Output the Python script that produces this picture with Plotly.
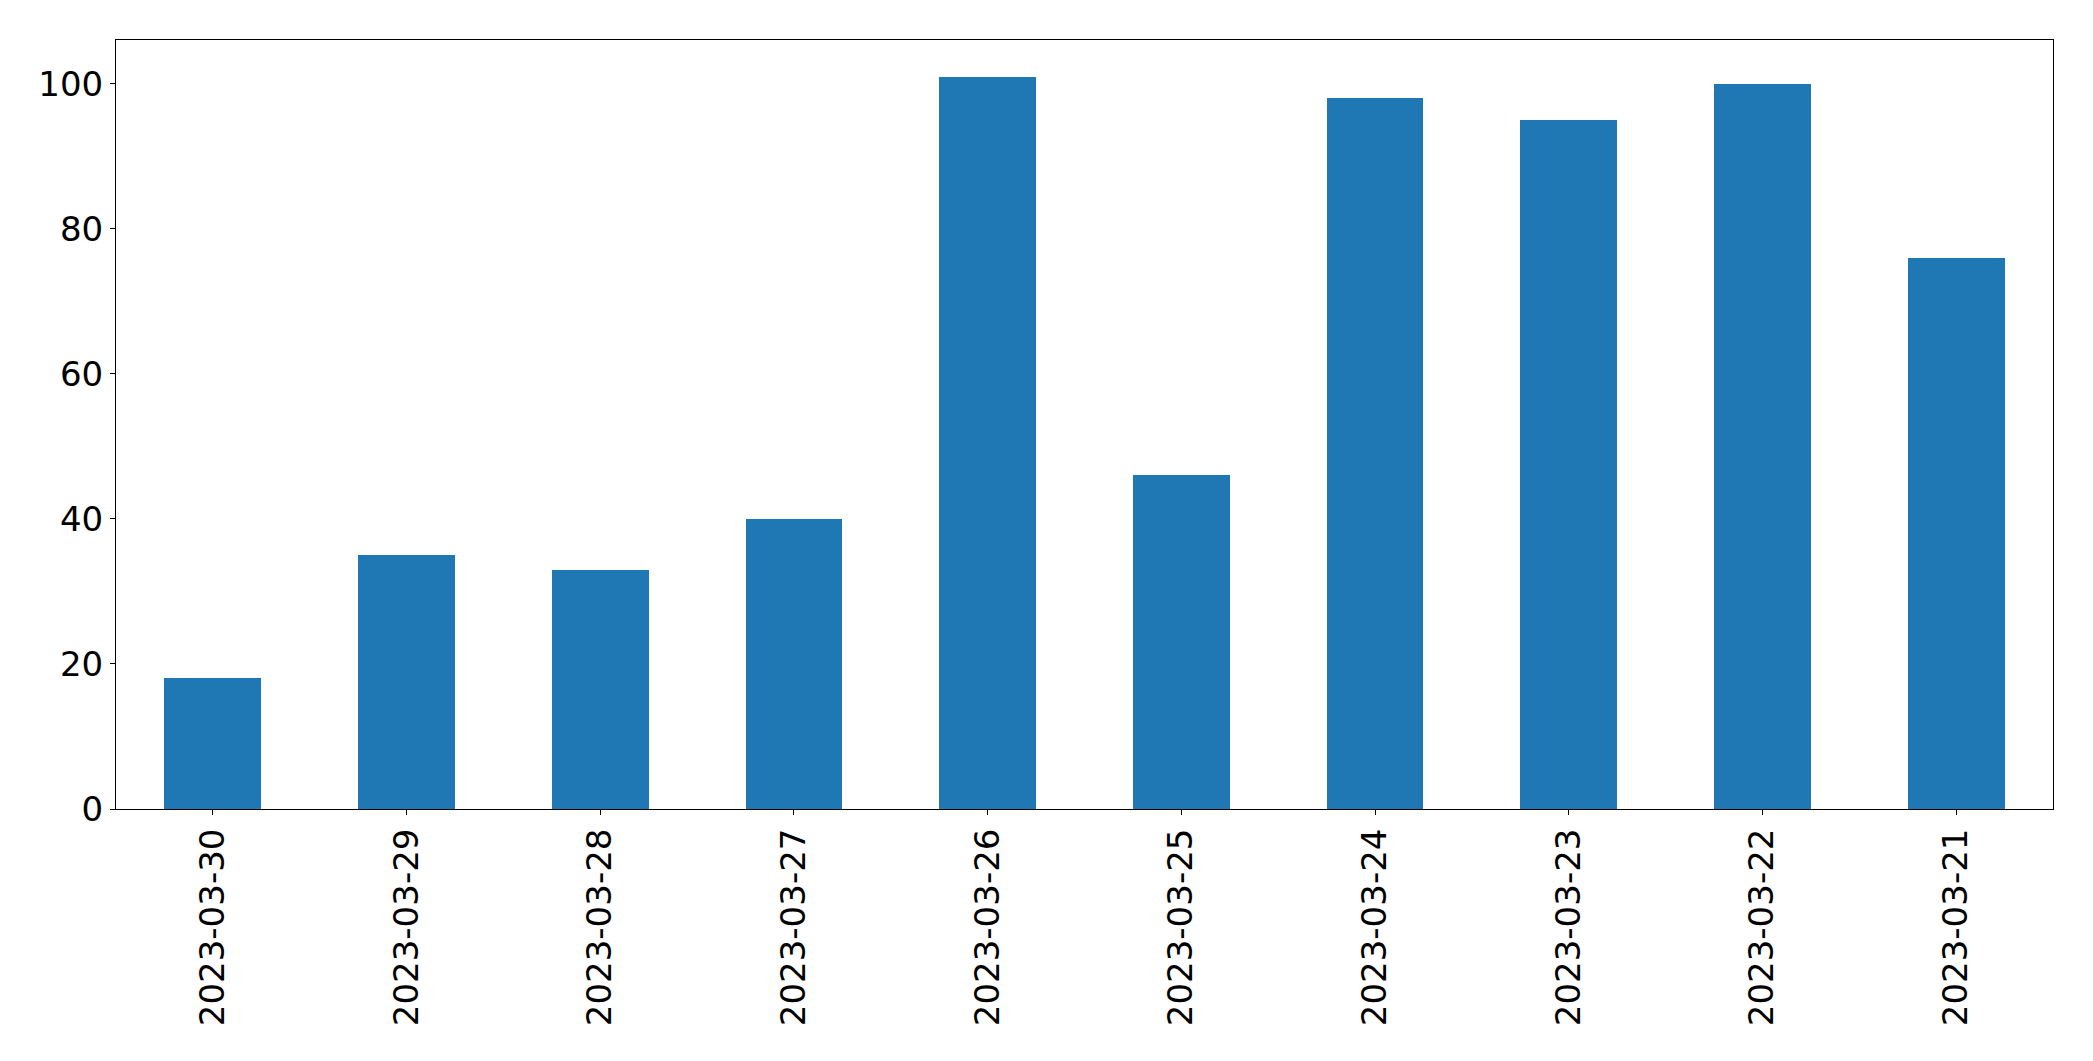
import plotly.graph_objects as go

dates = ["2023-03-30", "2023-03-29", "2023-03-28", "2023-03-27", "2023-03-26",
         "2023-03-25", "2023-03-24", "2023-03-23", "2023-03-22", "2023-03-21"]
counts = [18, 35, 33, 40, 101, 46, 98, 95, 100, 76]
y_ticks = [0, 20, 40, 60, 80, 100]

fig = go.Figure()
fig.add_trace(go.Bar(x=dates, y=counts, width=0.5, marker=dict(color="#1f77b4", line=dict(width=0))))

font = dict(family="DejaVu Sans", size=34, color="black")
fig.update_layout(
    width=2093, height=1061,
    margin=dict(l=116, r=40, t=40, b=252, autoexpand=False),
    paper_bgcolor="white", plot_bgcolor="white",
    showlegend=False, bargap=0,
    font=font,
)
fig.update_xaxes(
    type="category", range=[-0.5, len(dates) - 0.5],
    showline=True, linecolor="black", linewidth=1, mirror=True,
    ticks="outside", ticklen=5, tickcolor="black", tickwidth=1,
    tickangle=-90, showgrid=False, zeroline=False, tickfont=font,
    automargin=False,
)
fig.update_yaxes(
    range=[0, max(counts) * 1.05], tickvals=y_ticks,
    showline=True, linecolor="black", linewidth=1, mirror=True,
    ticks="outside", ticklen=5, tickcolor="black", tickwidth=1,
    showgrid=False, zeroline=False, tickfont=font, automargin=False,
)
fig.write_html("out.html", config={"displayModeBar": False},
               post_script="document.body.style.margin='0';document.body.style.overflow='hidden';")
